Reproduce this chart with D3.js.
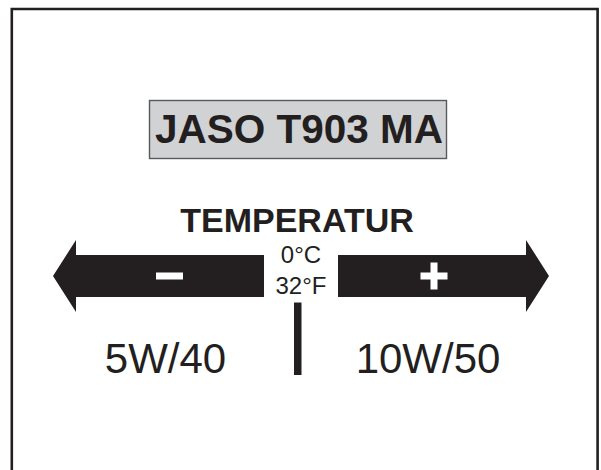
<!DOCTYPE html>
<html><head><meta charset="utf-8">
<script src="https://cdn.jsdelivr.net/npm/d3@7/dist/d3.min.js"></script>
<style>html,body{margin:0;padding:0;background:#fff;}svg{display:block;}</style>
</head><body>
<script>
// ---- data ----
const title = ["JASO T903 MA"];
const heading = ["TEMPERATUR"];
const directions = [-1, 1];            // cold side, warm side
const signs = ["minus", "plus"];
const pivotLabels = ["0°C", "32°F"];
const grades = ["5W/40", "10W/50"];

const W = 601, H = 470;
const ink = "#231f20";
const svg = d3.select("body").append("svg").attr("width", W).attr("height", H);

// scale: temperature direction -> horizontal position of arrow tip
const x = d3.scaleLinear().domain([-1, 1]).range([53, 549]);

// frame
svg.append("path")
  .attr("d", `M11.8,${H + 5} V9 H597.6 V${H + 5}`)
  .attr("fill", "none").attr("stroke", ink).attr("stroke-width", 2.6);

// title box
const tg = svg.append("g");
tg.selectAll("rect").data(title).join("rect")
  .attr("x", 149.5).attr("y", 100.5).attr("width", 297).attr("height", 58)
  .attr("fill", "#d1d2d4").attr("stroke", "#58595b").attr("stroke-width", 1.4);
tg.selectAll("text").data(title).join("text")
  .attr("x", 299).attr("y", 142.5).attr("text-anchor", "middle")
  .attr("font-family", "Liberation Sans, Arial, sans-serif").attr("font-weight", "bold")
  .attr("font-size", 40.5).attr("fill", ink).text(d => d);

// heading
svg.selectAll("text.heading").data(heading).join("text").attr("class", "heading")
  .attr("x", 297).attr("y", 232).attr("text-anchor", "middle")
  .attr("font-family", "Liberation Sans, Arial, sans-serif").attr("font-weight", "bold")
  .attr("font-size", 34).attr("fill", ink).text(d => d);

// arrows
const cy = 276, headH = 36, bodyH = 21, headL = 23;
const innerEnd = d => d < 0 ? 264 : 338;
svg.selectAll("path.arrow").data(directions).join("path").attr("class", "arrow")
  .attr("d", d => {
    const tip = x(d), back = tip - d * headL, inner = innerEnd(d);
    return `M${tip},${cy} L${back},${cy - headH} L${back},${cy - bodyH} L${inner},${cy - bodyH}` +
           ` L${inner},${cy + bodyH} L${back},${cy + bodyH} L${back},${cy + headH} Z`;
  })
  .attr("fill", ink);

// signs
const signCx = d => d < 0 ? 169.5 : 434;
const sg = svg.selectAll("g.sign").data(directions).join("g").attr("class", "sign");
sg.append("rect")
  .attr("x", d => signCx(d) - 13.5).attr("y", cy - 3.5).attr("width", 27).attr("height", 7)
  .attr("fill", "#fff");
sg.filter((d, i) => signs[i] === "plus").append("rect")
  .attr("x", d => signCx(d) - 3.5).attr("y", cy - 13.5).attr("width", 7).attr("height", 27)
  .attr("fill", "#fff");

// pivot labels
svg.selectAll("text.pivot").data(pivotLabels).join("text").attr("class", "pivot")
  .attr("x", 301).attr("y", (d, i) => 263 + i * 31).attr("text-anchor", "middle")
  .attr("font-family", "Liberation Sans, Arial, sans-serif")
  .attr("font-size", 24).attr("fill", ink).text(d => d);

// pivot bar
svg.append("rect").attr("x", 294).attr("y", 302.5).attr("width", 7.5).attr("height", 72.5).attr("fill", ink);

// grades
svg.selectAll("text.grade").data(grades).join("text").attr("class", "grade")
  .attr("x", (d, i) => i === 0 ? 165.5 : 428).attr("y", 373).attr("text-anchor", "middle")
  .attr("font-family", "Liberation Sans, Arial, sans-serif")
  .attr("font-size", 42).attr("fill", ink).text(d => d);
</script>
</body></html>
